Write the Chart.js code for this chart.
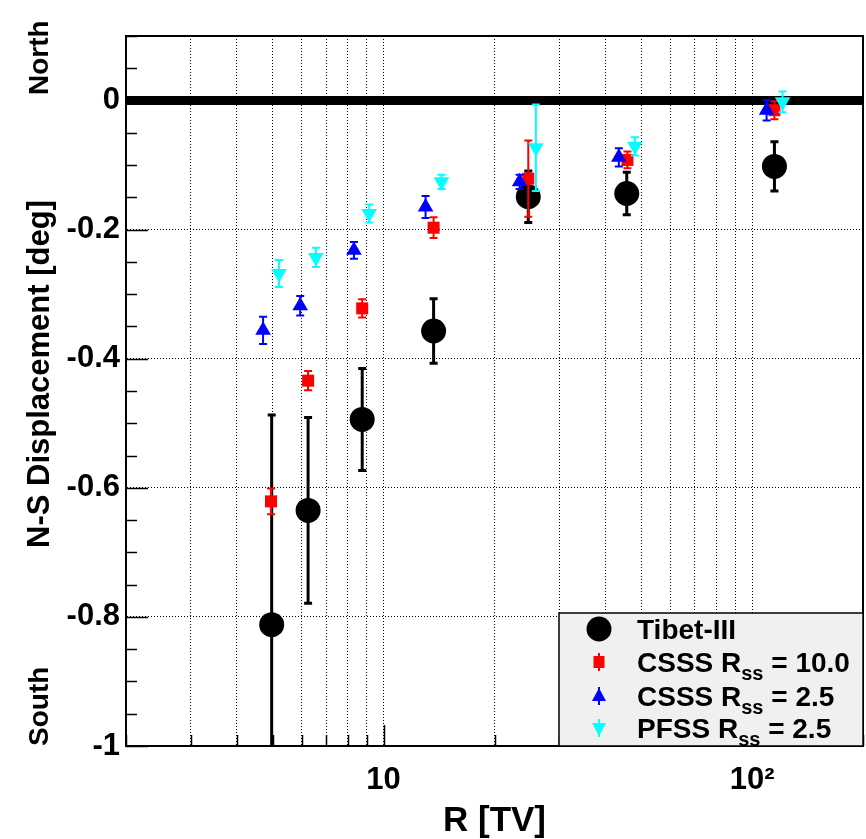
<!DOCTYPE html>
<html><head><meta charset="utf-8">
<script src="https://cdn.jsdelivr.net/npm/chart.js@4/dist/chart.umd.min.js"></script>
<style>html,body{margin:0;padding:0;background:#fff;}canvas{display:block;}</style>
</head><body>
<canvas id="c" width="866" height="839"></canvas>
<script>
// ---- data ----
const tibetR    = [4.97, 6.24, 8.75, 13.67, 24.7, 45.7, 115];
const tibetNS   = [-0.812, -0.635, -0.494, -0.357, -0.149, -0.144, -0.102];
const tibetErr  = [0.325, 0.144, 0.079, 0.050, 0.040, 0.033, 0.038];

const csss10R   = [4.95, 6.24, 8.75, 13.67, 24.7, 45.9, 115];
const csss10NS  = [-0.621, -0.434, -0.322, -0.197, -0.121, -0.092, -0.015];
const csss10Err = [0.020, 0.015, 0.014, 0.016, 0.059, 0.013, 0.014];

const csss25R   = [4.71, 5.94, 8.31, 13.0, 23.4, 43.5, 109.5];
const csss25NS  = [-0.356, -0.318, -0.232, -0.165, -0.126, -0.088, -0.015];
const csss25Err = [0.021, 0.015, 0.013, 0.017, 0.011, 0.014, 0.016];

const pfssR     = [5.2, 6.55, 9.14, 14.36, 25.9, 48.1, 121];
const pfssNS    = [-0.268, -0.243, -0.175, -0.126, -0.073, -0.071, -0.002];
const pfssErr   = [0.021, 0.015, 0.014, 0.011, 0.067, 0.014, 0.016];

const zeroLineR  = [2, 200];
const zeroLineNS = [0, 0];

const xTickValues = [2,3,4,5,6,7,8,9,10,20,30,40,50,60,70,80,90,100,200];
const xLabelValues = [10, 100];
const xLabelTexts  = ['10', '10\u00B2'];
const yTickValues = [-1, -0.8, -0.6, -0.4, -0.2, 0];
const yTickLabels = ['-1', '-0.8', '-0.6', '-0.4', '-0.2', '0'];
const yMinorStep = 0.05;

const legendNames = ['Tibet-III', 'CSSS R|ss| = 10.0', 'CSSS R|ss| = 2.5', 'PFSS R|ss| = 2.5'];
const xTitle = 'R [TV]';
const yTitle = 'N-S Displacement [deg]';
const northText = 'North';
const southText = 'South';

// ---- helpers ----
const FONT = '"Liberation Sans", Arial, Helvetica, sans-serif';
const pts = (xs, ys) => xs.map((x, i) => ({x: x, y: ys[i]}));

const decor = {
  id: 'decor',
  beforeDatasetsDraw(chart) {
    const {ctx, chartArea: a, scales: {x, y}} = chart;
    ctx.save();
    ctx.strokeStyle = '#000';
    ctx.lineWidth = 1.5;
    for (let k = 0; k <= 22; k++) {
      const vv = Math.round((-1 + k * yMinorStep) * 100) / 100;
      const major = (k % 4 === 0);
      const py = Math.round(y.getPixelForValue(vv)) + 0.5;
      ctx.beginPath();
      ctx.moveTo(a.left, py);
      ctx.lineTo(a.left + (major ? 22 : 11), py);
      ctx.stroke();
    }
    xTickValues.forEach(v => {
      const major = (v === 10 || v === 100);
      const px = Math.round(x.getPixelForValue(v)) + 0.5;
      ctx.beginPath();
      ctx.moveTo(px, a.bottom);
      ctx.lineTo(px, a.bottom - (major ? 21 : 11));
      ctx.stroke();
    });
    ctx.restore();
  },
  beforeDatasetDraw(chart, args) {
    const ds = chart.data.datasets[args.index];
    if (!ds.errors) return;
    const {ctx, chartArea: a, scales: {y}} = chart;
    ctx.save();
    ctx.beginPath();
    ctx.rect(a.left, a.top, a.right - a.left, a.bottom - a.top);
    ctx.clip();
    ctx.strokeStyle = ds.errColor;
    ctx.lineWidth = ds.errWidth;
    args.meta.data.forEach((p, i) => {
      const v = ds.data[i].y, e = ds.errors[i];
      const t = y.getPixelForValue(v + e), b = y.getPixelForValue(v - e);
      ctx.beginPath();
      ctx.moveTo(p.x, t); ctx.lineTo(p.x, b);
      ctx.moveTo(p.x - ds.errCap, t); ctx.lineTo(p.x + ds.errCap, t);
      ctx.moveTo(p.x - ds.errCap, b); ctx.lineTo(p.x + ds.errCap, b);
      ctx.stroke();
    });
    ctx.restore();
  },
  afterDraw(chart) {
    const {ctx, chartArea: a} = chart;
    ctx.save();
    ctx.strokeStyle = '#000';
    ctx.lineWidth = 2;
    ctx.strokeRect(a.left, a.top, a.right - a.left, a.bottom - a.top);

    ctx.fillStyle = '#000';
    ctx.font = 'bold 35px ' + FONT;
    ctx.textAlign = 'center';
    ctx.textBaseline = 'alphabetic';
    ctx.fillText(xTitle, (a.left + a.right) / 2, 831);

    ctx.textBaseline = 'middle';
    const rot = (txt, cx, cy, align) => {
      ctx.save(); ctx.translate(cx, cy); ctx.rotate(-Math.PI / 2);
      ctx.textAlign = align; ctx.fillText(txt, 0, 0); ctx.restore();
    };
    ctx.font = 'bold 31px ' + FONT;
    rot(yTitle, 40, 374, 'center');
    ctx.font = 'bold 28px ' + FONT;
    rot(northText, 40, 95, 'left');
    rot(southText, 40, 746, 'left');

    const L = {x: 559, y: 613, w: a.right - 559, h: a.bottom - 613};
    ctx.fillStyle = '#f0f0f0';
    ctx.fillRect(L.x, L.y, L.w, L.h);
    ctx.strokeStyle = '#000';
    ctx.lineWidth = 1.5;
    ctx.strokeRect(L.x, L.y, L.w, L.h);

    const rows = [629, 662, 696, 728];
    const mx = 599;
    const dsets = chart.data.datasets.slice(1);
    dsets.forEach((ds, i) => {
      const cy = rows[i];
      ctx.fillStyle = ds.backgroundColor;
      ctx.strokeStyle = ds.errColor;
      ctx.lineWidth = 2;
      if (i > 0) {
        ctx.beginPath();
        ctx.moveTo(mx, cy - 9); ctx.lineTo(mx, cy + 9);
        ctx.stroke();
      }
      ctx.beginPath();
      if (i === 0) { ctx.arc(mx, cy, 12.5, 0, Math.PI * 2); }
      else if (i === 1) { ctx.rect(mx - 5.5, cy - 6, 11, 12); }
      else if (i === 2) { ctx.moveTo(mx, cy - 8); ctx.lineTo(mx + 7, cy + 5); ctx.lineTo(mx - 7, cy + 5); ctx.closePath(); }
      else { ctx.moveTo(mx, cy + 8); ctx.lineTo(mx + 7, cy - 5); ctx.lineTo(mx - 7, cy - 5); ctx.closePath(); }
      ctx.fill();
      const parts = legendNames[i].split('|');
      let tx = 637;
      const base = cy + 10;
      ctx.fillStyle = '#000';
      ctx.textAlign = 'left';
      ctx.textBaseline = 'alphabetic';
      parts.forEach((p, k) => {
        if (k % 2 === 1) {
          ctx.font = 'bold 20px ' + FONT;
          ctx.fillText(p, tx, base + 8);
        } else {
          ctx.font = 'bold 28px ' + FONT;
          ctx.fillText(p, tx, base);
        }
        tx += ctx.measureText(p).width;
      });
    });
    ctx.restore();
  }
};

const tickFont = {family: FONT, size: 31, weight: 'bold'};

new Chart(document.getElementById('c'), {
  type: 'scatter',
  data: {
    datasets: [
      {label: 'zero', type: 'line', data: pts(zeroLineR, zeroLineNS), borderColor: '#000', borderWidth: 9,
       pointRadius: 0, fill: false, order: 5},
      {label: 'Tibet-III', data: pts(tibetR, tibetNS), pointStyle: 'circle', pointRadius: 12.5,
       backgroundColor: '#000', borderColor: '#000', borderWidth: 0, order: 4,
       errors: tibetErr, errColor: '#000', errWidth: 3, errCap: 4},
      {label: 'CSSS Rss = 10.0', data: pts(csss10R, csss10NS), pointStyle: 'rect', pointRadius: 8.5,
       backgroundColor: '#ff0000', borderColor: '#ff0000', borderWidth: 0, order: 3,
       errors: csss10Err, errColor: '#ff0000', errWidth: 2, errCap: 4},
      {label: 'CSSS Rss = 2.5', data: pts(csss25R, csss25NS), pointStyle: 'triangle', pointRadius: 9,
       backgroundColor: '#0000ff', borderColor: '#0000ff', borderWidth: 0, order: 2,
       errors: csss25Err, errColor: '#0000ff', errWidth: 2, errCap: 4},
      {label: 'PFSS Rss = 2.5', data: pts(pfssR, pfssNS), pointStyle: 'triangle', rotation: 180, pointRadius: 9,
       backgroundColor: '#00ffff', borderColor: '#00ffff', borderWidth: 0, order: 1,
       errors: pfssErr, errColor: '#00ffff', errWidth: 2, errCap: 4}
    ]
  },
  options: {
    responsive: false, animation: false, devicePixelRatio: 1,
    layout: {autoPadding: false, padding: {top: 36, right: 3, left: 0, bottom: 0}},
    plugins: {legend: {display: false}, tooltip: {enabled: false}},
    scales: {
      x: {
        type: 'logarithmic', position: 'bottom', min: 2, max: 200,
        afterBuildTicks(s) { s.ticks = xTickValues.map(v => ({value: v})); },
        afterFit(s) { s.height = 93; s.paddingLeft = 0; s.paddingRight = 0; },
        ticks: {
          autoSkip: false, maxRotation: 0, minRotation: 0, padding: 16, color: '#000', font: tickFont,
          callback(v) { const k = xLabelValues.indexOf(v); return k >= 0 ? xLabelTexts[k] : ''; }
        },
        grid: {color: '#000', lineWidth: 1, drawTicks: false},
        border: {display: true, color: '#000', width: 2, dash: [1, 2]}
      },
      y: {
        type: 'linear', min: -1, max: 0.1,
        afterBuildTicks(s) { s.ticks = yTickValues.map(v => ({value: v})); },
        afterFit(s) { s.width = 126; s.paddingTop = 0; s.paddingBottom = 0; },
        ticks: {
          padding: 6, color: '#000', font: tickFont,
          callback(v) { const k = yTickValues.findIndex(t => Math.abs(t - v) < 1e-9); return k >= 0 ? yTickLabels[k] : ''; }
        },
        grid: {color: '#000', lineWidth: 1, drawTicks: false},
        border: {display: true, color: '#000', width: 2, dash: [1, 2]}
      }
    }
  },
  plugins: [decor]
});
</script>
</body></html>
